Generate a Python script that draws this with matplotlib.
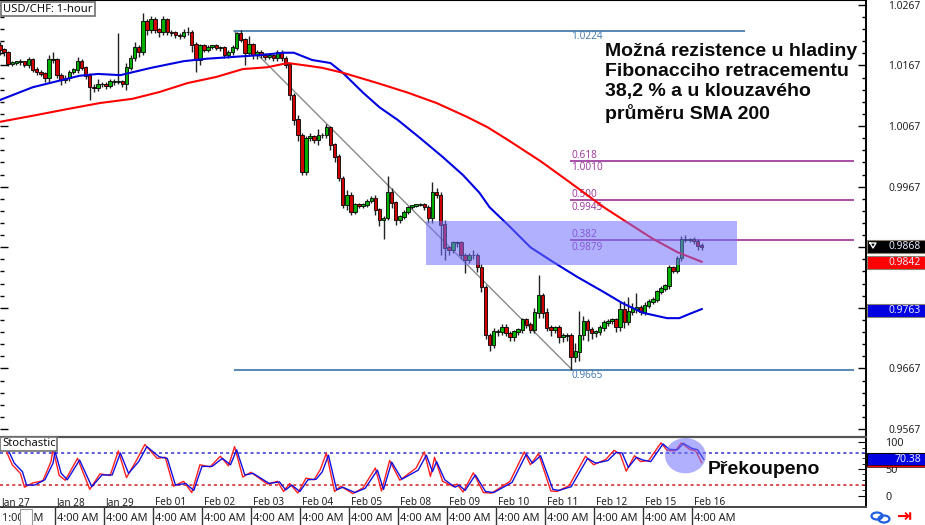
#! /usr/bin/env python
# -*- coding: utf-8 -*-
import matplotlib
matplotlib.use("Agg")
import matplotlib.pyplot as plt
from matplotlib.patches import Ellipse, Rectangle

plt.rcParams['font.family'] = ['Noto Sans', 'DejaVu Sans']

# closes, one candle every 2 hours
closes = [
    1.0193, 1.0189, 1.0169, 1.0171, 1.0173, 1.0173, 1.0168, 1.0176, 1.0160, 1.0156,
    1.0153, 1.0146, 1.0176, 1.0176, 1.0151, 1.0143, 1.0146, 1.0156, 1.0160, 1.0173,
    1.0163, 1.0150, 1.0131, 1.0130, 1.0136, 1.0136, 1.0133, 1.0140, 1.0140, 1.0140,
    1.0136, 1.0163, 1.0179, 1.0196, 1.0189, 1.0239, 1.0226, 1.0242, 1.0226, 1.0222,
    1.0242, 1.0222, 1.0221, 1.0217, 1.0216, 1.0222, 1.0222, 1.0201, 1.0176, 1.0199,
    1.0193, 1.0197, 1.0199, 1.0196, 1.0196, 1.0184, 1.0189, 1.0196, 1.0219, 1.0209,
    1.0188, 1.0201, 1.0184, 1.0189, 1.0184, 1.0181, 1.0183, 1.0179, 1.0189, 1.0179,
    1.0168, 1.0118, 1.0077, 1.0052, 0.9991, 1.0047, 1.0049, 1.0044, 1.0052, 1.0052,
    1.0064, 1.0036, 1.0016, 0.9981, 0.9937, 0.9953, 0.9925, 0.9937, 0.9935, 0.9937,
    0.9943, 0.9948, 0.9929, 0.9912, 0.9915, 0.9958, 0.9940, 0.9912, 0.9917, 0.9925,
    0.9933, 0.9935, 0.9937, 0.9938, 0.9933, 0.9915, 0.9957, 0.9953, 0.9904, 0.9866,
    0.9863, 0.9874, 0.9874, 0.9854, 0.9846, 0.9854, 0.9854, 0.9834, 0.9801, 0.9722,
    0.9706, 0.9727, 0.9727, 0.9735, 0.9725, 0.9719, 0.9727, 0.9731, 0.9747, 0.9739,
    0.9731, 0.9759, 0.9788, 0.9759, 0.9734, 0.9731, 0.9734, 0.9719, 0.9721, 0.9722,
    0.9686, 0.9694, 0.9722, 0.9744, 0.9731, 0.9725, 0.9727, 0.9734, 0.9742, 0.9745,
    0.9747, 0.9735, 0.9764, 0.9744, 0.9760, 0.9765, 0.9768, 0.9760, 0.9770, 0.9777,
    0.9780, 0.9793, 0.9798, 0.9803, 0.9833, 0.9828, 0.9849, 0.9879, 0.9879, 0.9879,
    0.9877, 0.9869, 0.9868,
]
first_open = 1.0200

# wick lengths in pips
wick_up = [
    6, 3, 2, 3, 2, 4, 2, 5, 3, 4, 3, 4, 8, 13, 3, 3, 5, 4, 3, 8,
    4, 3, 5, 6, 8, 4, 4, 5, 4, 80, 3, 8, 6, 10, 5, 15, 5, 6, 5, 3,
    6, 3, 3, 3, 4, 5, 8, 3, 5, 4, 3, 3, 2, 3, 3, 3, 3, 5, 4, 6,
    4, 14, 3, 3, 3, 3, 3, 3, 4, 3, 3, 3, 3, 8, 3, 3, 6, 3, 10, 3,
    6, 3, 3, 5, 4, 8, 6, 3, 3, 3, 3, 3, 5, 3, 3, 27, 6, 3, 3, 3,
    2, 2, 2, 2, 2, 3, 17, 8, 5, 8, 3, 3, 3, 4, 3, 3, 8, 3, 5, 3,
    3, 6, 5, 6, 5, 3, 4, 3, 4, 3, 5, 8, 33, 4, 8, 5, 3, 5, 4, 3,
    3, 15, 40, 10, 5, 5, 4, 4, 5, 3, 3, 3, 15, 15, 25, 10, 23, 4, 6, 5,
    5, 4, 5, 3, 5, 3, 4, 6, 8, 4, 5, 4, 5,
]
wick_dn = [
    8, 6, 3, 3, 3, 5, 3, 6, 4, 5, 3, 6, 8, 5, 5, 8, 5, 4, 3, 5,
    3, 5, 21, 6, 5, 5, 5, 4, 5, 4, 5, 10, 4, 5, 8, 5, 8, 6, 5, 8,
    4, 4, 6, 4, 5, 3, 4, 12, 20, 8, 3, 3, 3, 4, 5, 5, 4, 5, 4, 4,
    20, 6, 6, 6, 5, 5, 4, 5, 4, 5, 6, 8, 8, 10, 5, 5, 4, 5, 8, 4,
    5, 8, 8, 5, 6, 8, 5, 3, 4, 3, 3, 3, 8, 10, 31, 3, 8, 8, 5, 4,
    3, 3, 2, 2, 5, 8, 8, 4, 50, 20, 8, 6, 6, 6, 21, 5, 6, 8, 8, 6,
    10, 6, 6, 5, 5, 6, 6, 4, 6, 5, 5, 5, 8, 8, 6, 10, 6, 10, 8, 8,
    21, 8, 15, 8, 18, 10, 6, 5, 6, 5, 4, 8, 6, 10, 5, 5, 6, 4, 4, 4,
    4, 4, 3, 3, 5, 3, 4, 4, 4, 4, 5, 6, 6,
]

sma100_hours = [0, 16, 28, 39, 48, 59, 74, 90, 101, 114, 127, 139, 144, 153, 162, 168, 178, 186,
                195, 206, 217, 227, 235, 240, 249, 260, 271, 283, 296, 305, 315, 327, 333, 338, 344]
sma100 = [1.0110, 1.0131, 1.0141, 1.0150, 1.0153, 1.0151, 1.0163, 1.0174, 1.0178, 1.0181,
          1.0184, 1.0188, 1.0188, 1.0176, 1.0171, 1.0155, 1.0122, 1.0098, 1.0077, 1.0047,
          1.0016, 0.9986, 0.9957, 0.9933, 0.9904, 0.9867, 0.9843, 0.9818, 0.9793, 0.9775,
          0.9759, 0.9750, 0.9750, 0.9757, 0.9765]

sma200_hours = [0, 16, 33, 49, 65, 78, 92, 106, 119, 131, 141, 152, 158, 168, 185, 200, 214,
                229, 239, 249, 265, 279, 296, 307, 320, 332, 344]
sma200 = [1.0074, 1.0084, 1.0095, 1.0105, 1.0112, 1.0123, 1.0138, 1.0148, 1.0161, 1.0164,
          1.0171, 1.0166, 1.0163, 1.0155, 1.0138, 1.0122, 1.0105, 1.0082, 1.0065, 1.0044,
          1.0009, 0.9975, 0.9933, 0.9909, 0.9881, 0.9859, 0.9843]

stoch_hours = [0, 3, 6, 10, 12, 16, 21, 25, 26, 29, 32, 38, 44, 49, 54, 58, 62, 67, 71, 77,
               81, 85, 90, 94, 98, 103, 108, 112, 115, 119, 123, 131, 136, 139, 142, 146, 150, 154,
               157, 160, 164, 167, 173, 178, 184, 187, 191, 196, 204, 208, 211, 213, 217, 222, 224,
               227, 232, 237, 241, 250, 257, 260, 264, 270, 273, 279, 287, 291, 297, 301, 304, 307,
               311, 314, 318, 324, 327, 331, 334, 338, 341, 344]
stoch_d = [89, 86, 61, 45, 20, 20, 30, 61, 83, 42, 30, 67, 17, 39, 39, 80, 42, 64, 92, 73,
           70, 20, 23, 10, 55, 55, 70, 58, 86, 39, 42, 23, 26, 11, 20, 8, 30, 31,
           45, 76, 11, 16, 6, 14, 48, 12, 63, 31, 48, 76, 45, 64, 30, 16, 20,
           10, 39, 8, 6, 25, 78, 61, 75, 12, 10, 17, 70, 61, 66, 81, 80, 53,
           72, 67, 64, 97, 87, 86, 98, 89, 86, 68]
stoch_k = [92, 84, 58, 42, 16, 24, 28, 64, 88, 38, 29, 70, 12, 41, 38, 84, 34, 67, 96, 70,
           72, 18, 27, 6, 58, 54, 74, 56, 92, 35, 44, 22, 27, 8, 23, 5, 33, 30,
           49, 80, 8, 18, 4, 15, 52, 9, 66, 29, 52, 82, 36, 72, 27, 18, 22,
           7, 43, 6, 5, 27, 82, 58, 79, 9, 8, 19, 74, 58, 68, 85, 78, 46,
           75, 64, 66, 99, 85, 84, 99, 87, 84, 62]

date_labels = ['Jan 27', 'Jan 28', 'Jan 29', 'Feb 01', 'Feb 02', 'Feb 03', 'Feb 04', 'Feb 05',
               'Feb 08', 'Feb 09', 'Feb 10', 'Feb 11', 'Feb 12', 'Feb 15', 'Feb 16']
date_hours = [1, 28, 52, 76, 100, 124, 148, 172, 196, 220, 244, 268, 292, 316, 340]

fib_ratios = ['0.618', '0.500', '0.382']
fib_prices = [1.0010, 0.9945, 0.9879]
swing_high = 1.0224
swing_low = 0.9665

# 0.9867 and 0.9767 are ticks too, but the price tags sit where their labels would be
price_ticks = [1.0267, 1.0167, 1.0067, 0.9967, 0.9867, 0.9767, 0.9667, 0.9567]
hidden_labels = [0.9867, 0.9767]
last_price = 0.9868
last_sma200 = 0.9842
last_sma100 = 0.9763
last_stoch = 70.38
zone_low = 0.9838
zone_high = 0.9911

W, H = 925, 525
PANEL_R = 866      # right edge of the plot area in pixels
PX_PER_HOUR = 2.04
PRICE_TOP = 1.0275
PRICE_BOTTOM = 0.95572
BLUE = '#0000e0'
RED = '#ff0000'
FIB = '#a040a0'
STEEL = '#4a7eb0'


def hour_of(px):
    return px / PX_PER_HOUR


def price_to_y(p):
    return (PRICE_TOP - p) / (PRICE_TOP - PRICE_BOTTOM) * 435


def panel(top, bottom):
    return fig.add_axes([0, 1 - bottom / H, PANEL_R / W, (bottom - top) / H])


def boxed_label(x0, y0, x1, y1, txt):
    ov.add_patch(Rectangle((x0, y0), x1 - x0, y1 - y0, fc='white', ec='#707070', lw=1.2))
    ov.text(x0 + 2, (y0 + y1) / 2, txt, fontsize=8.1, va='center', ha='left', color='#111111')


def price_tag(y, txt, bg):
    ov.add_patch(Rectangle((PANEL_R + 1, y - 6.5), 58, 13, fc=bg, ec='#888070', lw=0.8))
    ov.text(921, y, txt, color='#e8e8ff', fontsize=7.4, va='center', ha='right')


fig = plt.figure(figsize=(W / 100, H / 100), dpi=100)
ax = panel(0, 435)
ax2 = panel(437, 507)
ov = fig.add_axes([0, 0, 1, 1], zorder=10)
ov.set_xlim(0, W)
ov.set_ylim(H, 0)
ov.axis('off')

# candles
opens = [first_open] + closes[:-1]
for i, (o, c) in enumerate(zip(opens, closes)):
    h = i * 2
    ax.vlines(h, max(o, c), max(o, c) + wick_up[i] * 1e-4, color='#222222', lw=1, zorder=3)
    ax.vlines(h, min(o, c), min(o, c) - wick_dn[i] * 1e-4, color='#222222', lw=1, zorder=3)
    ax.bar(h, abs(c - o) + 0.0001, bottom=min(o, c), width=1.7,
           color='#00b000' if c >= o else '#d00000', edgecolor='black', linewidth=0.6, zorder=4)

ax.plot(sma100_hours, sma100, color=BLUE, lw=1.5, zorder=5)
ax.plot(sma200_hours, sma200, color=RED, lw=1.5, zorder=5)

# fibonacci levels and trend line
ax.plot([hour_of(234), hour_of(572)], [swing_high, swing_low], color='#8a8a8a', lw=1, zorder=2)
ax.hlines(swing_high, hour_of(234), hour_of(745), color=STEEL, lw=1.3, zorder=2)
ax.hlines(swing_low, hour_of(234), hour_of(854), color=STEEL, lw=1.3, zorder=2)
ax.hlines(fib_prices, hour_of(570), hour_of(854), color=FIB, lw=1.3, zorder=2)
ax.text(hour_of(571), swing_high, '%.4f' % swing_high, color=STEEL, fontsize=7.2, va='top')
ax.text(hour_of(571), swing_low, '%.4f' % swing_low, color=STEEL, fontsize=7.2, va='top')
for r, p in zip(fib_ratios, fib_prices):
    ax.text(hour_of(571), p, r, color=FIB, fontsize=7.2, va='bottom')
    ax.text(hour_of(571), p - 0.0003, '%.4f' % p, color=FIB, fontsize=7.2, va='top')

ax.add_patch(Rectangle((hour_of(426), zone_low), hour_of(737 - 426), zone_high - zone_low,
                       fc='#7070ff', ec='none', alpha=0.55, zorder=6))

ax.set_xlim(0, PANEL_R / PX_PER_HOUR)
ax.set_ylim(PRICE_BOTTOM, PRICE_TOP)
ax.set_xticks([])
ax.yaxis.tick_right()
ax.set_yticks(price_ticks)
ax.set_yticklabels(['' if t in hidden_labels else '%.4f' % t for t in price_ticks])
ax.set_yticks([0.9567 + 0.002 * k for k in range(36)], minor=True)
ax.tick_params(axis='y', which='major', direction='in', length=6, width=1, pad=16, labelsize=7.4,
               left=True, right=True, labelcolor='#222222')
ax.tick_params(axis='y', which='minor', direction='in', length=3, width=1, left=True, right=True)
ax.spines['left'].set_visible(False)
ax.spines['bottom'].set_visible(False)
ax.spines['right'].set_linewidth(1.4)

# stochastic panel
ax2.plot(stoch_hours, stoch_k, color='#ff2020', lw=1, zorder=3)
ax2.plot([h + 1 for h in stoch_hours], stoch_d, color='#1010e0', lw=1, zorder=3)
ax2.axhline(80, color='#3030d0', lw=1.1, ls=(0, (2, 2)), zorder=2)
ax2.axhline(20, color='#d02020', lw=1.1, ls=(0, (2, 2)), zorder=2)
ax2.add_patch(Ellipse((336, 75), 20, 66, fc='#7070ff', ec='none', alpha=0.55, zorder=4))
ax2.set_xlim(0, PANEL_R / PX_PER_HOUR)
ax2.set_ylim(-21, 110)
ax2.set_xticks([])
ax2.yaxis.tick_right()
ax2.set_yticks([0, 50, 100])
ax2.set_yticks(list(range(0, 101, 10)), minor=True)
ax2.tick_params(axis='y', which='major', direction='in', length=6, pad=14, labelsize=7.8,
                labelcolor='#222222')
ax2.tick_params(axis='y', which='minor', direction='in', length=3)
ax2.spines['left'].set_visible(False)
ax2.spines['top'].set_color('#555555')
ax2.spines['top'].set_linewidth(1.6)
ax2.spines['bottom'].set_color('#444444')
ax2.spines['bottom'].set_linewidth(1.4)
ax2.spines['right'].set_linewidth(1.4)

for d, h in zip(date_labels, date_hours):
    ax2.text(h, -12.5, d, fontsize=7.2, color='#222222', va='center', ha='left')

# bottom time row
for h in date_hours[1:]:
    ax2.vlines(h - 1, -21, -55, color='#333333', lw=1, clip_on=False)
    ax2.text(h, -43, '4:00 AM', fontsize=7.9, color='#222222', va='center', ha='left', clip_on=False)
ax2.text(1, -43, '1:00 AM', fontsize=7.9, color='#222222', va='center', ha='left', clip_on=False)

# overlay: boxes, annotations and price tags
boxed_label(1, 2, 95, 16, 'USD/CHF: 1-hour')
boxed_label(0, 437, 57, 451, 'Stochastic')
ov.add_patch(Rectangle((20, 509), 12, 16, fc='white', ec='#999999', lw=0.8))

ann = 'Možná rezistence u hladiny\nFibonacciho retracementu\n38,2 % a u klouzavého\nprůměru SMA 200'
ov.text(605, 83, ann, family='Liberation Sans', fontweight='bold', fontsize=14, color='#0a0a0a',
        va='center', ha='left', linespacing=1.25)
ov.text(708, 470, 'Překoupeno', family='Liberation Sans', fontweight='bold', fontsize=14,
        color='#0a0a0a', va='center', ha='left')

price_tag(price_to_y(last_price), '%.4f' % last_price, 'black')
price_tag(price_to_y(last_sma200), '%.4f' % last_sma200, '#ff0000')
price_tag(price_to_y(last_sma100), '%.4f' % last_sma100, '#0000e0')
ov.plot([870, 876, 873, 870], [243, 243, 248, 243], color='white', lw=1)
ov.add_patch(Rectangle((PANEL_R + 1, 453), 58, 13, fc='#0000e0', ec='black', lw=0.8))
ov.add_patch(Rectangle((PANEL_R + 1, 465), 58, 2, fc='#ff0000', ec='black', lw=0.4))
ov.text(921, 459, '%.2f' % last_stoch, color='#e8e8ff', fontsize=7.6, va='center', ha='right')

# chain and arrow icons
ov.add_patch(Ellipse((877, 516), 11, 7, fc='none', ec='#2060e0', lw=1.6))
ov.add_patch(Ellipse((884, 519), 11, 7, fc='none', ec='#2060e0', lw=1.6))
ov.text(905, 517, '⇥', family='DejaVu Sans', color='#ff0000', fontsize=13, fontweight='bold',
        va='center', ha='center')

fig.savefig('out.png', dpi=100)
